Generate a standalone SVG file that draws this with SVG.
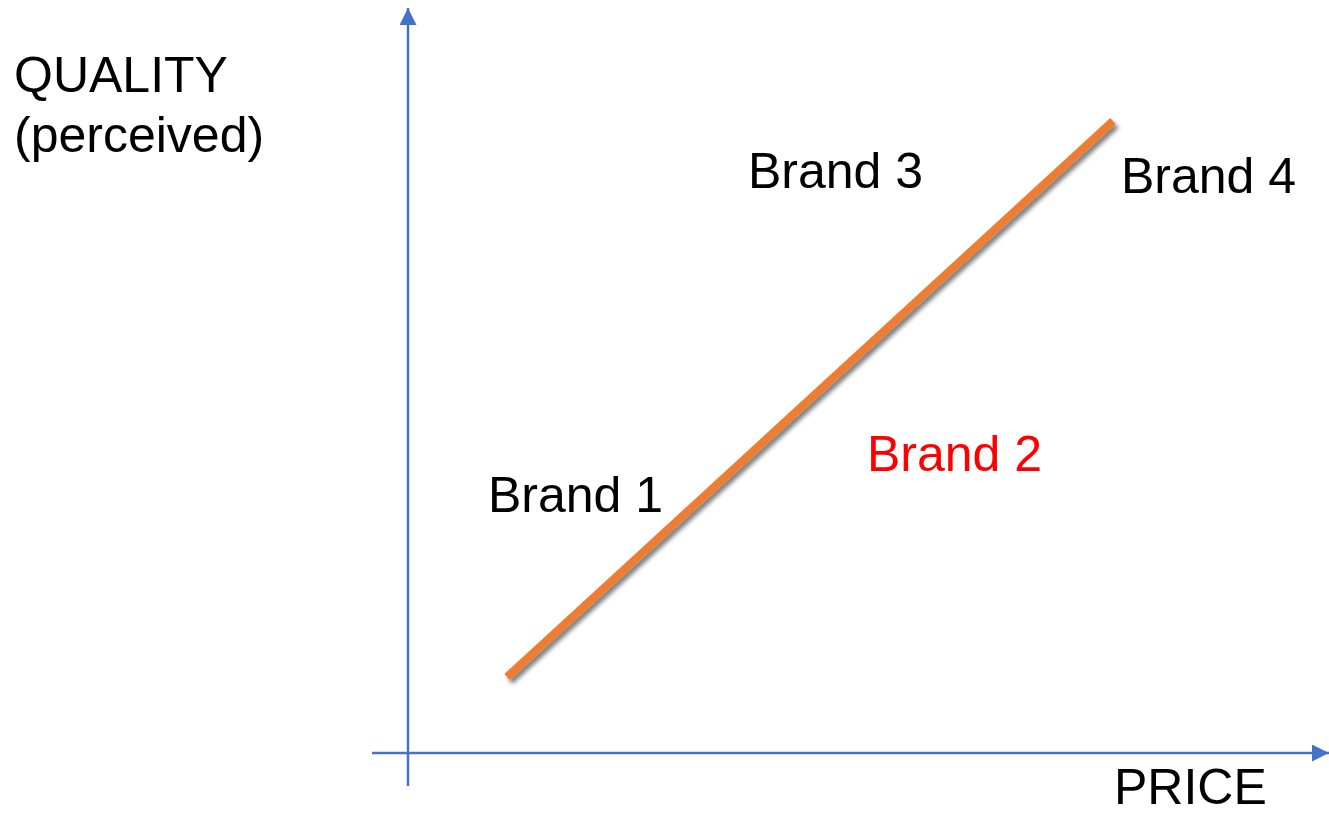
<svg xmlns="http://www.w3.org/2000/svg" width="1329" height="815" viewBox="0 0 1329 815">
<style>
text{font-family:"Liberation Sans",Arial,sans-serif;font-size:50px;fill:#000}
.axis{stroke:#4472C4;stroke-width:2.5;fill:none}
.red{fill:#FF0000}
</style>
<defs>
<marker id="ah" viewBox="0 0 10 10" refX="10" refY="5" markerWidth="6.8" markerHeight="6.8" markerUnits="strokeWidth" orient="auto">
<path d="M0,0 L10,5 L0,10 Z" fill="#4472C4"/>
</marker>
<filter id="sh" x="-10%" y="-10%" width="120%" height="120%">
<feGaussianBlur in="SourceAlpha" stdDeviation="2"/>
<feOffset dx="3" dy="4" result="b"/>
<feComponentTransfer><feFuncA type="linear" slope="0.5"/></feComponentTransfer>
<feMerge><feMergeNode/><feMergeNode in="SourceGraphic"/></feMerge>
</filter>
</defs>
<g id="connectors">
<line class="axis" x1="408" y1="786" x2="408" y2="8" marker-end="url(#ah)"/>
<line class="axis" x1="372" y1="753" x2="1329" y2="753" marker-end="url(#ah)"/>
<line x1="507" y1="677" x2="1113" y2="121" stroke="#ED7D31" stroke-width="8" filter="url(#sh)"/>
</g>
<g id="y-label"><text x="14" y="92">QUALITY</text><text x="14" y="152">(perceived)</text></g>
<g id="x-label"><text x="1114" y="804">PRICE</text></g>
<g id="brand1"><text x="488" y="512">Brand 1</text></g>
<g id="brand2"><text class="red" x="867" y="471">Brand 2</text></g>
<g id="brand3"><text x="748" y="188">Brand 3</text></g>
<g id="brand4"><text x="1121" y="193">Brand 4</text></g>
</svg>
